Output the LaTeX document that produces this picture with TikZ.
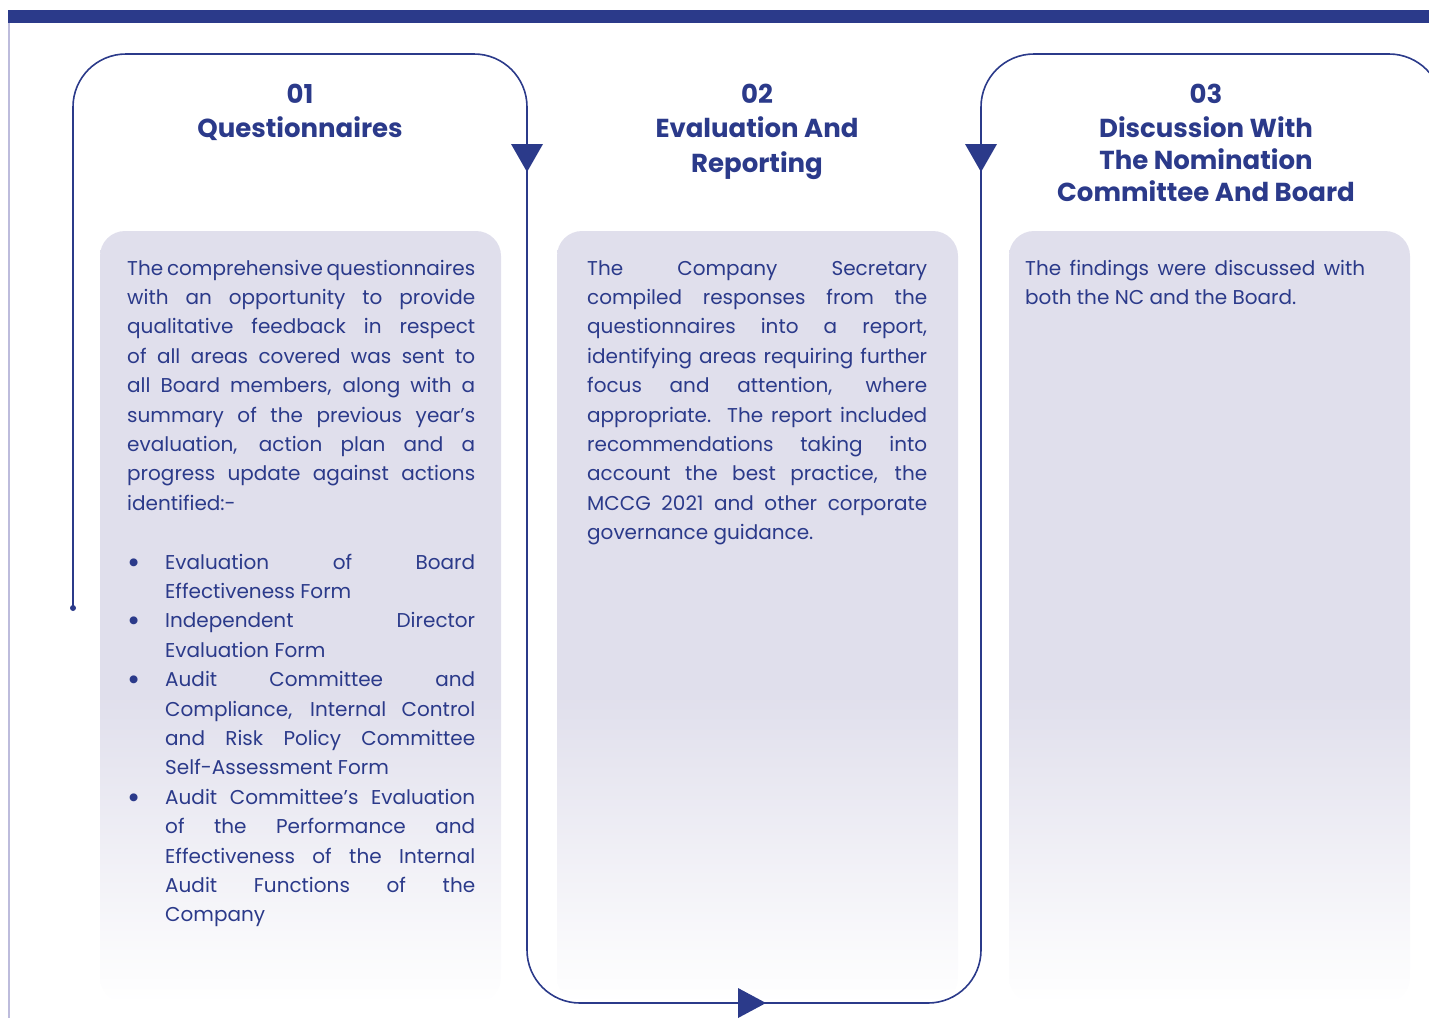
\documentclass[tikz,border=0pt]{standalone}
\usepackage{fontspec}
\setmainfont{Poppins}
\usetikzlibrary{calc}

\definecolor{navy}{HTML}{2B3A8A}
\definecolor{cardc}{HTML}{E0DFEC}
\definecolor{edgec}{HTML}{BDBCDC}

% cards fade from lavender to white towards their bottom edge
\pgfdeclareverticalshading{cardfade}{100bp}{color(0bp)=(white); color(25bp)=(white); color(45bp)=(cardc); color(100bp)=(cardc)}

% line builders for the card texts
\newcommand\bigbul{\raisebox{-.2em}{\scalebox{1.6}{\textbullet}}}
\newcommand\txjust[1]{\hbox to \hsize{\spaceskip=.25em plus 1fil minus .25em\relax #1}}
\newcommand\txleft[1]{\hbox to \hsize{#1\hfil}}
\newcommand\txbul[1]{\hbox to \hsize{\hbox to 12pt{\hfil\bigbul\hfil}\hskip 26pt\spaceskip=.25em plus 1fil minus .25em\relax #1}}
\newcommand\txindl[1]{\hbox to \hsize{\hskip 38pt #1\hfil}}
\newcommand\txindj[1]{\hbox to \hsize{\hskip 38pt\spaceskip=.25em plus 1fil minus .25em\relax #1}}
\newcommand\txcen[1]{\hbox to \hsize{\hfil #1\hfil}}

\tikzset{
  flow/.style={draw=navy, line width=1.6pt, rounded corners=53pt},
  card/.style={rounded corners=25pt, shading=cardfade},
  bodytxt/.style={text=navy, inner sep=0pt, anchor=base west, font=\fontsize{20}{29.4}\selectfont},
  headtxt/.style={text=navy, inner sep=0pt, anchor=base, font=\fontsize{26}{33}\selectfont\bfseries},
}

\begin{document}
\begin{tikzpicture}[x=1pt, y=-1pt]
\useasboundingbox (0,0) rectangle (1429,1018);
\clip (0,0) rectangle (1429,1018);

% header band and page edge
\fill[navy] (8,10) rectangle (1429,23);
\draw[edgec, line width=1.5pt] (9,23) -- (9,1018);

% cards
\shade[card] (100,231) rectangle (501,1003);
\shade[card] (557,231) rectangle (958,1003);
\shade[card] (1009,231) rectangle (1410,1003);

% process line
\coordinate (start) at (73,608);
\coordinate (k1) at (73,54);
\coordinate (k2) at (527,54);
\coordinate (k3) at (527,1003);
\coordinate (k4) at (981,1003);
\coordinate (k5) at (981,54);
\coordinate (k6) at (1442,54);
\coordinate (k7) at (1442,1040);
\draw[flow] (start) -- (k1) -- (k2) -- (k3) -- (k4) -- (k5) -- (k6) -- (k7);
\fill[navy] (start) circle (3pt);

% direction markers
\coordinate (m1) at (527,158);
\coordinate (m2) at (981,158);
\coordinate (m3) at (752,1003);
\fill[navy] ([shift={(-16,-14)}]m1) -- ++(32,0) -- ++(-16,28) -- cycle;
\fill[navy] ([shift={(-16,-14)}]m2) -- ++(32,0) -- ++(-16,28) -- cycle;
\fill[navy] ([shift={(-14,-15)}]m3) -- ++(0,30) -- ++(28,-15) -- cycle;

% step headings
\node[headtxt] (n1) at (300,103) {01};
\node[headtxt] (h1) at (300,137) {\vtop{\hsize=420pt \txcen{Questionnaires}}};
\node[headtxt] (n2) at (757,103) {02};
\node[headtxt] (h2) at (757,137) {\vtop{\hsize=420pt \baselineskip=35pt \txcen{Evaluation And}\txcen{Reporting}}};
\node[headtxt] (n3) at (1206,103) {03};
\node[headtxt] (h3) at (1206,137) {\vtop{\hsize=420pt \baselineskip=32pt \txcen{Discussion With}\txcen{The Nomination}\txcen{Committee And Board}}};

% card texts
\node[bodytxt] (b1) at (127,275) {\vtop{\hsize=348pt \baselineskip=29.4pt
\txjust{The comprehensive questionnaires}
\txjust{with an opportunity to provide}
\txjust{qualitative feedback in respect}
\txjust{of all areas covered was sent to}
\txjust{all Board members, along with a}
\txjust{summary of the previous year’s}
\txjust{evaluation, action plan and a}
\txjust{progress update against actions}
\txleft{identified:-}
\hbox{}
\txbul{Evaluation of Board}
\txindl{Effectiveness Form}
\txbul{Independent Director}
\txindl{Evaluation Form}
\txbul{Audit Committee and}
\txindj{Compliance, Internal Control}
\txindj{and Risk Policy Committee}
\txindl{Self-Assessment Form}
\txbul{Audit Committee’s Evaluation}
\txindj{of the Performance and}
\txindj{Effectiveness of the Internal}
\txindj{Audit Functions of the}
\txindl{Company}}};

\node[bodytxt] (b2) at (587,275) {\vtop{\hsize=340pt \baselineskip=29.4pt
\txjust{The Company Secretary}
\txjust{compiled responses from the}
\txjust{questionnaires into a report,}
\txjust{identifying areas requiring further}
\txjust{focus and attention, where}
\txjust{appropriate. The report included}
\txjust{recommendations taking into}
\txjust{account the best practice, the}
\txjust{MCCG 2021 and other corporate}
\txleft{governance guidance.}}};

\node[bodytxt] (b3) at (1025,275) {\vtop{\hsize=340pt \baselineskip=29.4pt
\txjust{The findings were discussed with}
\txleft{both the NC and the Board.}}};
\end{tikzpicture}
\end{document}
